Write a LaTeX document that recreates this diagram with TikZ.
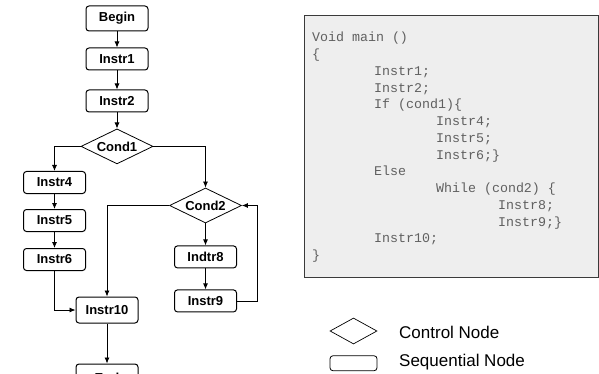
\documentclass[tikz,border=0pt]{standalone}
\usepackage{fontspec}
\setmainfont{Liberation Sans}
\setsansfont{Liberation Sans}
\setmonofont{Liberation Mono}
\usetikzlibrary{shapes.geometric,arrows.meta,positioning}
\definecolor{codebg}{HTML}{EEEEEE}
\definecolor{codetxt}{HTML}{606060}
\definecolor{codeframe}{HTML}{3A3A3A}
\tikzset{
  seqnode/.style={draw, rounded corners=3pt, line width=1pt, minimum width=62pt,
    minimum height=22pt, inner sep=0pt, font=\fontsize{13}{15}\selectfont\bfseries},
  ctrlnode/.style={draw, diamond, aspect=2, line width=0.8pt, minimum width=72pt,
    minimum height=35pt, inner sep=0pt, font=\fontsize{13}{15}\selectfont\bfseries},
  flow/.style={-{Latex[length=6pt,width=5pt]}, line width=0.8pt},
  legendtext/.style={anchor=west, inner sep=0pt, font=\fontsize{17}{19}\selectfont},
  codeline/.style={anchor=base west, inner sep=0pt, text=codetxt,
    font=\ttfamily\fontsize{13.3}{16}\selectfont}
}

\begin{document}
\begin{tikzpicture}[x=1pt,y=1pt,node distance=16pt]
  \useasboundingbox (0,0) rectangle (599,-374);
  \clip (0,0) rectangle (599,-374);
  % main chain
  \node[seqnode, minimum height=25pt] (begin) at (117,-18.5) {Begin};
  \node[seqnode] (instr1) [below=16pt of begin] {Instr1};
  \node[seqnode] (instr2) [below=19pt of instr1] {Instr2};
  \node[ctrlnode] (cond1) [below=16pt of instr2] {Cond1};
  % then branch
  \node[seqnode] (instr4) at (54.5,-182.5) {Instr4};
  \node[seqnode] (instr5) [below=15pt of instr4] {Instr5};
  \node[seqnode] (instr6) [below=16pt of instr5] {Instr6};
  % else branch (while loop)
  \node[ctrlnode] (cond2) at (205.5,-205.5) {Cond2};
  \node[seqnode] (indtr8) [below=22pt of cond2] {Indtr8};
  \node[seqnode] (instr9) [below=21pt of indtr8] {Instr9};
  % join
  \node[seqnode, minimum height=26pt] (instr10) at (107,-310) {Instr10};
  \node[seqnode, minimum height=27pt] (end) [below=40pt of instr10] {End};
  % edges
  \draw[flow] (begin) -- (instr1);
  \draw[flow] (instr1) -- (instr2);
  \draw[flow] (instr2) -- (cond1);
  \draw[flow] (cond1.west) -| (instr4.north);
  \draw[flow] (cond1.east) -| (cond2.north);
  \draw[flow] (instr4) -- (instr5);
  \draw[flow] (instr5) -- (instr6);
  \draw[flow] (instr6.south) |- (instr10.west);
  \draw[flow] (cond2) -- (indtr8);
  \draw[flow] (indtr8) -- (instr9);
  \draw[flow] (instr9.east) -- ++(20,0) |- (cond2.east);
  \draw[flow] (cond2.west) -| (instr10.north);
  \draw[flow] (instr10) -- (end);
  % source code box
  \draw[codeframe, fill=codebg, line width=0.8pt] (304,-15) rectangle (598,-277);
  \foreach \lvl/\txt [count=\i] in {0/Void main (), 0/\{, 1/Instr1;, 1/Instr2;,
      1/If (cond1)\{, 2/Instr4;, 2/Instr5;, 2/Instr6;\}, 1/Else,
      2/While (cond2) \{, 3/Instr8;, 3/Instr9;\}, 1/Instr10;, 0/\}}
    \node[codeline] (code\i) at ({312+62*\lvl},{-41.7-16.77*(\i-1)}) {\txt};
  % legend
  \node[draw, diamond, aspect=1.8, line width=0.7pt, minimum width=47pt,
    minimum height=26pt, inner sep=0pt] (legctrl) at (353.5,-331) {};
  \node[draw, rounded corners=3pt, line width=0.8pt, minimum width=47pt,
    minimum height=15pt, inner sep=0pt] (legseq) [below=11pt of legctrl] {};
  \node[legendtext] (legctrltxt) at (399,-332) {Control Node};
  \node[legendtext] (legseqtxt) at (399,-362.5) {Sequential Node};
\end{tikzpicture}
\end{document}
